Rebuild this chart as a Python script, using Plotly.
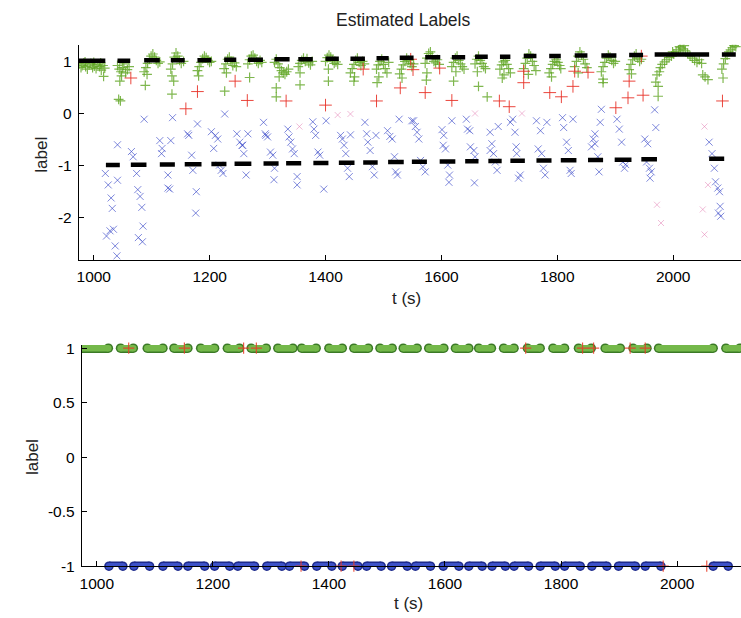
import plotly.graph_objects as go

# ---------------- data ----------------
# label segments (start t, end t, estimated mean level)
pos_start = [974, 1041, 1087, 1133, 1179, 1225, 1266, 1312, 1353, 1400, 1443, 1488, 1528, 1572, 1618, 1658, 1701, 1742, 1786, 1830, 1876, 1924, 1968, 2084]
pos_end   = [1020, 1063, 1114, 1157, 1203, 1246, 1292, 1338, 1378, 1423, 1468, 1509, 1552, 1598, 1641, 1680, 1719, 1764, 1806, 1852, 1902, 1948, 2062, 2108]
pos_level = [1.01, 1.01, 1.02, 1.02, 1.02, 1.03, 1.03, 1.04, 1.04, 1.05, 1.05, 1.06, 1.07, 1.08, 1.08, 1.09, 1.09, 1.10, 1.10, 1.11, 1.11, 1.12, 1.13, 1.13]

neg_start = [1021, 1064, 1114, 1157, 1203, 1243, 1293, 1332, 1379, 1423, 1465, 1508, 1549, 1597, 1641, 1681, 1719, 1764, 1806, 1853, 1899, 1945, 2062]
neg_end   = [1045, 1091, 1140, 1186, 1229, 1272, 1319, 1358, 1405, 1450, 1490, 1535, 1575, 1624, 1664, 1704, 1744, 1790, 1833, 1879, 1928, 1972, 2088]
neg_level = [-0.99, -0.985, -0.98, -0.975, -0.97, -0.965, -0.96, -0.955, -0.95, -0.945, -0.94, -0.93, -0.925, -0.92, -0.915, -0.91, -0.905, -0.90, -0.895, -0.89, -0.885, -0.88, -0.87]

# green '+' estimates
green_t = [975, 978, 980, 983, 986, 989, 992, 995, 998, 1001, 1004, 1007, 1010, 1013, 1016, 1019, 1017, 985, 1000, 1012,
           1041, 1044, 1047, 1050, 1052, 1055, 1058, 1061, 1048, 1045, 1043, 1046,
           1087, 1090, 1093, 1096, 1099, 1102, 1105, 1108, 1111, 1114, 1089, 1092,
           1133, 1136, 1139, 1142, 1145, 1148, 1151, 1155, 1135, 1138, 1135,
           1179, 1182, 1185, 1188, 1191, 1194, 1197, 1200, 1203, 1181,
           1225, 1228, 1231, 1234, 1237, 1240, 1243, 1246, 1229, 1226,
           1266, 1269, 1272, 1275, 1278, 1281, 1284, 1287, 1290, 1269,
           1312, 1315, 1318, 1321, 1324, 1327, 1330, 1333, 1336, 1315, 1315, 1320,
           1353, 1356, 1359, 1362, 1365, 1368, 1371, 1374, 1377, 1356, 1356,
           1400, 1403, 1406, 1409, 1412, 1415, 1418, 1421, 1405, 1405,
           1443, 1446, 1449, 1452, 1455, 1458, 1461, 1464, 1467, 1450, 1449,
           1488, 1491, 1494, 1497, 1500, 1503, 1506, 1509, 1492, 1489,
           1528, 1531, 1534, 1537, 1540, 1543, 1546, 1549, 1552, 1532,
           1572, 1575, 1578, 1581, 1584, 1587, 1590, 1593, 1596, 1575, 1574,
           1618, 1621, 1624, 1627, 1630, 1633, 1636, 1639, 1625, 1621,
           1658, 1661, 1664, 1667, 1670, 1673, 1676, 1664, 1679, 1662,
           1701, 1704, 1707, 1710, 1713, 1716, 1719, 1705, 1708,
           1742, 1745, 1748, 1751, 1754, 1757, 1760, 1763, 1750,
           1786, 1789, 1792, 1795, 1798, 1801, 1804, 1806, 1790,
           1830, 1833, 1836, 1839, 1842, 1845, 1848, 1851, 1836,
           1876, 1879, 1882, 1885, 1888, 1891, 1894, 1897, 1900, 1879, 1879,
           1924, 1927, 1930, 1933, 1936, 1939, 1942, 1945, 1928,
           1970, 1972, 1974, 1976, 1978, 1981, 1985, 1989, 1993, 1997, 2001, 2005, 2009, 2013, 2017, 2021, 2025, 2029, 2033, 2037, 2041, 2045, 2049, 2051, 2055, 2060, 1974, 1999, 2011, 2019,
           2084, 2087, 2090, 2093, 2096, 2099, 2102, 2105, 2108, 2086]
green_y = [0.95, 0.88, 0.92, 0.97, 0.90, 0.85, 0.93, 0.96, 0.88, 0.91, 0.86, 0.94, 0.90, 0.83, 0.92, 0.87, 0.71, 0.99, 0.98, 0.97,
           0.92, 0.85, 0.80, 0.88, 0.95, 0.78, 0.84, 0.90, 0.72, 0.62, 0.27, 0.24,
           0.80, 0.88, 0.96, 1.04, 1.10, 1.14, 1.08, 1.02, 0.96, 0.99, 0.54, 0.75,
           0.85, 0.95, 1.08, 1.16, 1.10, 1.02, 0.96, 1.00, 0.72, 0.62, 0.37,
           0.82, 0.90, 0.98, 1.05, 1.10, 1.07, 1.02, 0.98, 1.00, 0.72,
           0.86, 0.95, 1.04, 1.08, 1.00, 0.92, 0.97, 0.90, 0.78, 0.43,
           0.95, 1.03, 1.10, 1.12, 1.06, 1.00, 0.96, 1.02, 0.98, 0.69,
           0.98, 1.04, 0.95, 0.88, 0.82, 0.78, 0.75, 0.80, 0.85, 0.49, 0.32, 0.70,
           0.90, 0.96, 1.02, 1.06, 1.00, 1.05, 0.97, 0.93, 1.00, 0.78, 0.55,
           1.00, 1.07, 1.12, 1.08, 1.02, 0.96, 0.99, 0.94, 0.85, 0.62,
           0.78, 0.86, 0.94, 1.02, 1.06, 0.98, 0.92, 1.00, 0.95, 0.70, 0.62,
           0.85, 0.93, 1.00, 1.04, 0.94, 0.86, 0.78, 0.98, 0.70, 0.59,
           0.76, 0.85, 0.93, 1.00, 1.06, 1.02, 0.96, 0.90, 0.95, 0.68,
           0.96, 1.06, 1.15, 1.18, 1.10, 1.00, 0.97, 1.03, 0.94, 0.78, 0.64,
           0.90, 0.98, 1.06, 1.10, 1.02, 0.95, 0.90, 0.85, 0.80, 0.62,
           0.95, 1.04, 1.10, 1.02, 0.96, 0.90, 0.86, 0.52, 0.32, 0.80,
           0.85, 0.93, 0.99, 1.02, 0.94, 0.86, 0.78, 0.68, 0.74,
           0.86, 0.96, 1.06, 1.14, 1.10, 1.00, 0.92, 0.82, 0.75,
           0.78, 0.86, 0.94, 1.00, 1.04, 0.98, 0.92, 0.86, 0.70,
           0.90, 1.00, 1.10, 1.18, 1.12, 1.04, 0.95, 0.88, 0.78,
           0.80, 0.90, 0.98, 1.06, 1.12, 1.08, 1.02, 0.96, 1.00, 0.66, 0.59,
           0.84, 0.94, 1.03, 1.10, 1.14, 1.06, 1.00, 1.04, 0.76,
           0.60, 0.74, 0.52, 0.80, 0.88, 0.94, 0.99, 1.03, 1.07, 1.10, 1.14, 1.18, 1.22, 1.26, 1.24, 1.20, 1.15, 1.10, 1.06, 1.02, 0.98, 1.03, 0.96, 0.74, 0.70, 0.65, 0.33, 1.18, 1.28, 1.30,
           0.85, 0.95, 1.05, 1.12, 1.18, 1.22, 1.26, 1.30, 1.28, 0.68]

# red '+' estimates
red_t = [1064, 1159, 1179, 1244, 1265, 1332, 1400, 1465, 1488, 1529, 1547, 1551, 1572, 1597, 1618, 1700, 1717, 1742, 1742, 1787, 1807, 1827, 1830, 1853, 1901, 1922, 1924, 1945, 1948, 2085]
red_y = [0.68, 0.09, 0.42, 0.62, 0.25, 0.24, 0.16, 0.85, 0.24, 0.49, 1.04, 0.84, 0.40, 0.87, 0.25, 0.24, 0.13, 0.81, 0.59, 0.40, 0.32, 0.52, 0.81, 0.79, 0.11, 0.30, 0.62, 1.10, 0.35, 0.24]

# blue 'x' estimates
blue_t = [1020, 1025, 1030, 1032, 1028, 1034, 1022, 1037, 1040, 1041, 1041,
          1065, 1068, 1074, 1076, 1080, 1083, 1085, 1077, 1084, 1087,
          1114, 1117, 1118, 1128, 1128, 1131, 1133, 1136,
          1162, 1164, 1179, 1169, 1171, 1177, 1176,
          1203, 1210, 1214, 1207, 1217, 1220, 1223, 1226,
          1247, 1252, 1256, 1257, 1259, 1263, 1266,
          1293, 1296, 1297, 1300, 1305, 1309, 1312, 1311,
          1335, 1337, 1340, 1343, 1346, 1351, 1351,
          1378, 1380, 1383, 1387, 1390, 1397, 1401,
          1426, 1429, 1432, 1435, 1438, 1441, 1443,
          1468, 1471, 1473, 1477, 1481, 1484, 1487,
          1507, 1511, 1515, 1519, 1521, 1524, 1527, 1549,
          1552, 1555, 1558, 1561, 1564, 1568, 1572,
          1601, 1604, 1603, 1607, 1611, 1614, 1613, 1618,
          1643, 1645, 1649, 1650, 1656, 1658, 1657,
          1684, 1687, 1684, 1690, 1693, 1696, 1698,
          1719, 1723, 1727, 1729, 1730, 1736, 1733,
          1764, 1771, 1767, 1773, 1776, 1779, 1782,
          1809, 1811, 1816, 1819, 1822, 1824, 1827,
          1876, 1874, 1865, 1862, 1865, 1859, 1870, 1872,
          1903, 1907, 1911, 1913, 1916, 1918,
          1951, 1956, 1954, 1959, 1962, 1960, 1968, 1970,
          2062, 2067, 2071, 2073, 2077, 2080, 2081, 2078, 2082]
blue_y = [-1.15, -1.37, -1.62, -1.82, -2.25, -2.22, -2.35, -2.54, -2.73, -0.60, -1.28,
          -0.73, -0.83, -1.15, -1.46, -1.59, -1.80, -2.16, -2.38, -2.46, -0.11,
          -0.52, -0.77, -0.67, -1.18, -1.43, -1.45, -0.52, -0.08,
          -0.39, -0.42, -0.20, -0.80, -1.09, -1.50, -1.91,
          -0.35, -0.42, -0.49, -0.67, -0.99, -1.09, -1.15, -0.01,
          -0.39, -0.55, -0.61, -0.61, -0.77, -1.18, -0.39,
          -0.17, -0.39, -0.42, -0.45, -0.74, -0.80, -1.05, -1.27,
          -0.30, -0.45, -0.55, -0.68, -0.77, -1.21, -1.37,
          -0.16, -0.30, -0.42, -0.74, -0.80, -1.45, -0.14,
          -0.42, -0.49, -0.61, -0.77, -1.05, -1.21, -0.41,
          -0.17, -0.39, -0.55, -0.71, -1.02, -1.18, -0.42,
          -0.33, -0.44, -0.49, -0.83, -1.12, -1.18, -0.11, -0.14,
          -0.14, -0.25, -0.36, -0.49, -0.90, -1.02, -1.12,
          -0.31, -0.42, -0.61, -0.68, -0.99, -1.18, -1.32, -0.14,
          -0.11, -0.30, -0.33, -0.64, -0.71, -0.83, -1.33,
          -0.36, -0.58, -0.71, -0.77, -0.93, -1.09, -0.25,
          -0.17, -0.11, -0.36, -0.64, -0.77, -1.18, -1.24,
          -0.14, -0.33, -0.68, -0.77, -1.05, -1.18, -0.17,
          -0.08, -0.27, -0.55, -0.71, -1.09, -1.15, -0.11,
          0.08, -0.17, -0.39, -0.49, -0.58, -0.64, -0.83, -1.12,
          -0.11, -0.30, -0.55, -0.93, -1.05, -0.98,
          -0.49, -0.58, -0.93, -1.05, -1.12, -1.24, 0.07, -0.27,
          -0.55, -0.77, -1.05, -1.31, -1.43, -1.50, -1.78, -1.91, -1.97]

# faint pink 'x' estimates
pink_t = [1355, 1421, 1443, 1658, 1739, 1972, 1979, 2051, 2054, 2054, 2060]
pink_y = [-0.25, -0.03, -0.01, 0.00, 0.00, -1.75, -2.10, -1.84, -2.32, -0.25, -1.37]

# lower panel: red '+' markers on the true labels
red2_t = [1055, 1151, 1253, 1275, 1739, 1837, 1856, 1919, 1945, 1352, 1421, 1443, 1976, 2051]
red2_y = [1, 1, 1, 1, 1, 1, 1, 1, 1, -1, -1, -1, -1, -1]

x_ticks = [1000, 1200, 1400, 1600, 1800, 2000]
y1_ticks = [-2, -1, 0, 1]
y1_text = ["-2", "-1", "0", "1"]
y2_ticks = [-1, -0.5, 0, 0.5, 1]
y2_text = ["-1", "-0.5", "0", "0.5", "1"]

FONT = "Liberation Sans, Arial, sans-serif"


def seg_xy(starts, ends, level):
    xs, ys = [], []
    for s, e, v in zip(starts, ends, level):
        xs += [s, e, None]
        ys += [v, v, None]
    return xs, ys


fig = go.Figure()

# ---------------- top panel ----------------
fig.add_trace(go.Scatter(x=blue_t, y=blue_y, mode="markers", xaxis="x", yaxis="y",
                         marker=dict(symbol="x-thin", size=7, line=dict(width=1, color="rgba(55,70,200,0.65)"))))
fig.add_trace(go.Scatter(x=pink_t, y=pink_y, mode="markers", xaxis="x", yaxis="y",
                         marker=dict(symbol="x-thin", size=6, line=dict(width=1, color="rgba(225,120,175,0.5)"))))
fig.add_trace(go.Scatter(x=green_t, y=green_y, mode="markers", xaxis="x", yaxis="y",
                         marker=dict(symbol="cross-thin", size=7, line=dict(width=1.2, color="rgba(95,165,35,0.8)"))))
fig.add_trace(go.Scatter(x=red_t, y=red_y, mode="markers", xaxis="x", yaxis="y",
                         marker=dict(symbol="cross-thin", size=9, line=dict(width=1, color="rgba(232,50,40,0.9)"))))
px_, py_ = seg_xy(pos_start, pos_end, pos_level)
fig.add_trace(go.Scatter(x=px_, y=py_, mode="lines", xaxis="x", yaxis="y",
                         line=dict(color="black", width=4.5)))
nx_, ny_ = seg_xy(neg_start, neg_end, neg_level)
fig.add_trace(go.Scatter(x=nx_, y=ny_, mode="lines", xaxis="x", yaxis="y",
                         line=dict(color="black", width=4.5)))

# ---------------- bottom panel ----------------
for starts, ends, val, dark, light in [
        (pos_start, pos_end, 1, "#3b7a26", "#74b84a"),
        (neg_start, neg_end, -1, "#1d2a8c", "#3d52c8")]:
    sx, sy = seg_xy(starts, ends, [val] * len(starts))
    fig.add_trace(go.Scatter(x=sx, y=sy, mode="lines+markers", xaxis="x2", yaxis="y2", cliponaxis=False,
                             line=dict(color=dark, width=9.5),
                             marker=dict(symbol="circle", size=9.5, color=dark, line=dict(width=0))))
    fig.add_trace(go.Scatter(x=sx, y=sy, mode="lines+markers", xaxis="x2", yaxis="y2", cliponaxis=False,
                             line=dict(color=light, width=6.5),
                             marker=dict(symbol="circle", size=6.5, color=light, line=dict(width=0))))
fig.add_trace(go.Scatter(x=red2_t, y=red2_y, mode="markers", xaxis="x2", yaxis="y2", cliponaxis=False,
                         marker=dict(symbol="cross-thin", size=8, line=dict(width=1.2, color="rgba(232,60,40,0.85)"))))

axis_common = dict(showline=True, linecolor="black", linewidth=1, ticks="inside", ticklen=5,
                   tickcolor="black", showgrid=False, zeroline=False, mirror=False,
                   tickfont=dict(family=FONT, size=15.5, color="black"))

label_font = dict(family=FONT, size=17, color="#222222")

fig.update_layout(
    width=741, height=618,
    margin=dict(l=0, r=0, t=0, b=0),
    paper_bgcolor="white", plot_bgcolor="white",
    showlegend=False,
    xaxis=dict(domain=[0.10391, 1.0], range=[974.2, 2117], tickvals=x_ticks, anchor="y",
               ticklabelstandoff=3, **axis_common),
    yaxis=dict(domain=[0.5788, 0.9345], range=[-2.806, 1.32], tickvals=y1_ticks, ticktext=y1_text, anchor="x",
               ticklabelstandoff=3, **axis_common),
    xaxis2=dict(domain=[0.10796, 1.0], range=[974.2, 2110], tickvals=x_ticks, anchor="y2",
                ticklabelstandoff=3, **axis_common),
    yaxis2=dict(domain=[0.0725, 0.4382], range=[-1, 1.03], tickvals=y2_ticks, ticktext=y2_text, anchor="x2",
                ticklabelstandoff=3, **axis_common),
    annotations=[
        dict(text="Estimated Labels", x=0.5425, y=0.9759, xref="paper", yref="paper", showarrow=False,
             xanchor="center", yanchor="middle", font=dict(family=FONT, size=17.5, color="#222222")),
        dict(text="t (s)", x=0.5480, y=0.5142, xref="paper", yref="paper", showarrow=False,
             xanchor="center", yanchor="middle", font=label_font),
        dict(text="t (s)", x=0.5506, y=0.0113, xref="paper", yref="paper", showarrow=False,
             xanchor="center", yanchor="middle", font=label_font),
        dict(text="label", x=0.0540, y=0.7524, xref="paper", yref="paper", showarrow=False, textangle=-90,
             xanchor="center", yanchor="middle", font=label_font),
        dict(text="label", x=0.0405, y=0.2527, xref="paper", yref="paper", showarrow=False, textangle=-90,
             xanchor="center", yanchor="middle", font=label_font),
    ],
)

fig.write_html("out.html", config={"displayModeBar": False},
               post_script="document.body.style.margin='0';document.body.style.overflow='hidden';")
